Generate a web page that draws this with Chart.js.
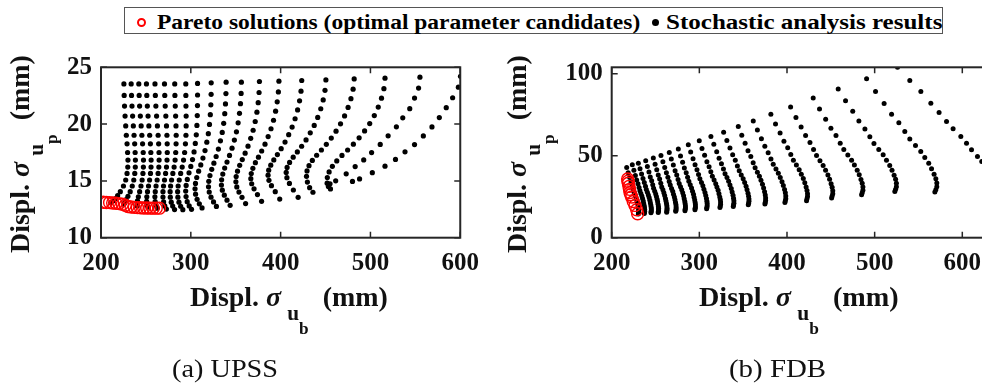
<!DOCTYPE html>
<html><head><meta charset="utf-8">
<script src="https://cdn.jsdelivr.net/npm/chart.js@4.4.0/dist/chart.umd.min.js"></script>
<style>
html,body{margin:0;padding:0;background:#fff;overflow:hidden;width:982px;height:387px;}
#wrap{position:relative;width:982px;height:387px;overflow:hidden;font-family:"Liberation Serif","Times New Roman",serif;color:#111;}
canvas{position:absolute;}
.t{position:absolute;white-space:nowrap;left:0;top:0;}
.b{font-weight:bold;}
.ttl{font-size:27.5px;line-height:27.5px;font-weight:bold;}
.g{font-style:italic;}
.s1{position:relative;top:14px;font-size:21px;line-height:0;margin-left:6px;}
.s2{position:relative;top:28px;font-size:17px;line-height:0;}
.bm{display:inline-block;width:0;height:0;}
.cap{font-size:26px;line-height:26px;}
.leg{font-size:21.6px;line-height:21.6px;font-weight:bold;color:#000;}
#lbox{position:absolute;left:124px;top:7px;width:819px;height:27px;border:1px solid #555;box-sizing:border-box;}
#mk1{position:absolute;left:136.5px;top:17.5px;width:9px;height:9px;border:2px solid #f00;border-radius:50%;box-sizing:border-box;}
#mk2{position:absolute;left:651.5px;top:18.5px;width:7px;height:7px;background:#000;border-radius:50%;}
</style></head>
<body>
<div id="wrap">
  <canvas id="cA" width="490" height="250" style="left:0px;top:40px"></canvas>
  <canvas id="cB" width="550" height="250" style="left:490px;top:40px"></canvas>
  <div id="lbox"></div><div id="mk1"></div><div id="mk2"></div>
  <div class="t leg" id="lg1">Pareto solutions (optimal parameter candidates)<span class="bm"></span></div>
  <div class="t leg" id="lg2">Stochastic analysis results<span class="bm"></span></div>
  <div class="t ttl" id="xtA">Displ. <span class="g">σ</span><span class="s1">u</span><span class="s2">b</span>&nbsp;&nbsp;(mm)<span class="bm"></span></div>
  <div class="t ttl" id="xtB">Displ. <span class="g">σ</span><span class="s1">u</span><span class="s2">b</span>&nbsp;&nbsp;(mm)<span class="bm"></span></div>
  <div class="t ttl" id="ytA">Displ. <span class="g">σ</span><span class="s1">u</span><span class="s2">p</span>&nbsp;&nbsp;(mm)<span class="bm"></span></div>
  <div class="t ttl" id="ytB">Displ. <span class="g">σ</span><span class="s1">u</span><span class="s2">p</span>&nbsp;&nbsp;(mm)<span class="bm"></span></div>
  <div class="t cap" id="capA">(a) UPSS<span class="bm"></span></div>
  <div class="t cap" id="capB">(b) FDB<span class="bm"></span></div>
</div>
<script>
// ---------- tick labels ----------
const upssTicksX = [200, 300, 400, 500, 600];
const upssTicksY = [10, 15, 20, 25];
const fdbTicksX = [200, 300, 400, 500, 600];
const fdbTicksY = [0, 50, 100];

// ---------- (a) UPSS : stochastic results, one array per parameter column ----------
const upssX = [
[225.5,225.8,226.2,226.8,227.5,228.2,229.0,229.6,230.0,229.8,229.0,227.5,225.0,221.5,218.5,216.0,213.5,211.0],
[233.6,234.0,234.5,235.2,236.0,236.8,237.5,238.0,238.3,238.2,237.6,236.5,234.8,232.5,230.0,228.0,226.5,225.5],
[242.1,242.5,243.0,243.8,244.7,245.5,246.3,247.0,247.3,247.2,246.7,245.8,244.5,243.0,241.6,240.6,240.2,240.3],
[250.6,251.0,251.6,252.4,253.3,254.2,255.0,255.5,255.8,255.7,255.1,254.1,252.9,251.8,251.0,250.8,251.2,252.2],
[260.1,260.5,261.1,261.9,262.8,263.6,264.2,264.6,264.7,264.4,263.6,262.5,261.3,260.4,260.0,260.3,261.2,262.6],
[270.7,271.0,271.5,272.2,272.9,273.4,273.7,273.8,273.5,272.9,271.9,270.7,269.6,269.0,269.0,269.7,271.0,272.8],
[282.1,282.3,282.7,283.1,283.5,283.7,283.6,283.2,282.5,281.4,280.0,278.6,277.5,277.0,277.2,278.2,279.8,281.9],
[294.4,294.5,294.6,294.8,294.8,294.6,294.0,293.1,291.9,290.4,288.7,287.1,285.9,285.3,285.6,286.8,288.7,291.1],
[307.5,307.5,307.4,307.2,306.8,306.1,305.0,303.6,301.9,300.0,298.0,296.1,294.8,294.3,294.7,296.0,298.2,300.8],
[322.7,322.6,322.3,321.7,320.8,319.5,317.8,315.8,313.5,311.1,308.7,306.6,305.2,304.7,305.3,307.0,309.5,312.5],
[339.3,339.1,338.6,337.8,336.6,335.0,333.0,330.7,328.2,325.7,323.3,321.3,320.0,319.7,320.5,322.5,325.3,328.5],
[356.3,356.0,355.3,354.2,352.7,350.8,348.5,345.9,343.1,340.3,337.7,335.6,334.3,334.1,335.1,337.3,340.3,343.8],
[376.4,376.0,375.0,373.6,371.7,369.4,366.7,363.7,360.5,357.3,354.4,352.0,350.5,350.2,351.2,353.6,357.0,361.0],
[398.1,397.5,396.2,394.4,392.1,389.3,386.1,382.6,378.9,375.3,371.9,369.1,367.3,366.8,367.8,370.4,374.2,378.8],
[423.5,422.7,421.1,418.9,416.1,412.8,409.0,404.9,400.6,396.4,392.4,389.0,386.7,386.0,387.0,389.8,394.0,399.0],
[450.4,449.4,447.4,444.7,441.3,437.4,433.0,428.3,423.4,418.6,414.0,410.0,407.2,406.2,407.0,409.8,414.2,419.5],
[481.9,480.7,478.3,475.1,471.2,466.7,461.7,456.4,450.9,445.4,440.1,435.3,431.6,429.4,428.8,429.8,432.3,436.0],
[516.2,515.0,512.3,508.7,504.3,499.2,493.5,487.4,481.0,474.6,468.3,462.5,457.6,454.0,452.0,451.8,453.2,455.5],
[555.1,553.6,549.1,543.8,536.0,528.9,519.7,510.9,501.3,492.5,483.0,473.0,461.3,455.0],
[600.3,597.9,591.5,584.4,576.7,568.5,558.9,549.1,538.5,527.9,516.2,502.1,487.9,480.0]
];
const upssY = [
[23.54,22.52,21.59,20.71,19.84,19.02,18.26,17.50,16.83,16.22,15.66,15.08,14.55,14.05,13.70,13.45,13.25,13.10],
[23.54,22.52,21.59,20.71,19.84,19.02,18.26,17.50,16.83,16.22,15.66,15.08,14.55,14.05,13.65,13.35,13.10,12.95],
[23.54,22.52,21.59,20.71,19.84,19.02,18.26,17.50,16.83,16.22,15.66,15.08,14.55,14.05,13.60,13.25,12.97,12.80],
[23.54,22.52,21.59,20.71,19.84,19.02,18.26,17.50,16.83,16.22,15.66,15.08,14.55,14.05,13.60,13.20,12.90,12.70],
[23.54,22.52,21.59,20.71,19.84,19.02,18.26,17.50,16.83,16.22,15.66,15.08,14.55,14.05,13.60,13.18,12.85,12.60],
[23.54,22.52,21.59,20.71,19.84,19.02,18.26,17.50,16.83,16.22,15.66,15.08,14.55,14.05,13.58,13.15,12.80,12.52],
[23.54,22.52,21.59,20.71,19.84,19.02,18.26,17.50,16.83,16.22,15.66,15.08,14.55,14.05,13.57,13.13,12.78,12.48],
[23.54,22.52,21.59,20.71,19.84,19.02,18.26,17.50,16.83,16.22,15.66,15.08,14.55,14.05,13.57,13.13,12.77,12.47],
[23.58,22.56,21.63,20.75,19.88,19.06,18.30,17.55,16.88,16.27,15.71,15.13,14.60,14.10,13.62,13.17,12.80,12.50],
[23.63,22.62,21.70,20.83,19.97,19.16,18.41,17.67,17.01,16.41,15.86,15.30,14.78,14.30,13.83,13.38,12.98,12.62],
[23.69,22.69,21.78,20.92,20.07,19.27,18.53,17.80,17.15,16.56,16.02,15.47,14.96,14.48,14.02,13.57,13.15,12.75],
[23.69,22.70,21.80,20.95,20.11,19.32,18.59,17.88,17.24,16.66,16.13,15.60,15.10,14.63,14.18,13.74,13.30,12.85],
[23.75,22.78,21.89,21.05,20.23,19.46,18.75,18.06,17.44,16.88,16.37,15.86,15.38,14.92,14.47,14.02,13.55,13.00],
[23.78,22.83,21.96,21.14,20.34,19.59,18.90,18.23,17.63,17.09,16.60,16.11,15.65,15.20,14.75,14.30,13.80,13.20],
[23.84,22.90,22.05,21.25,20.47,19.74,19.07,18.42,17.84,17.32,16.85,16.38,15.94,15.50,15.05,14.58,14.05,13.40],
[23.89,22.97,22.13,21.35,20.59,19.88,19.23,18.61,18.05,17.55,17.09,16.63,16.19,15.75,15.28,14.78,14.20,13.55],
[23.98,23.07,22.24,21.47,20.72,20.02,19.38,18.77,18.22,17.72,17.26,16.80,16.34,15.88,15.40,14.90,14.40,14.00],
[24.04,23.12,22.28,21.50,20.75,20.05,19.40,18.79,18.23,17.72,17.24,16.76,16.28,15.79,15.29,14.80,14.50,14.29],
[24.13,23.17,22.29,21.36,20.55,19.76,18.97,18.21,17.49,16.85,16.26,15.62,15.01,14.75],
[24.21,23.25,22.32,21.45,20.57,19.75,18.96,18.20,17.56,16.89,16.30,15.72,15.17,14.95]
];
const upssParetoX = [202.5,206.0,209.6,213.0,216.7,220.0,223.8,227.0,230.0,233.5,237.0,240.5,244.0,247.5,251.0,254.5,258.0,261.5,265.0];
const upssParetoY = [13.12,13.10,13.09,13.06,13.03,13.00,12.95,12.85,12.75,12.70,12.67,12.65,12.63,12.62,12.61,12.60,12.60,12.60,12.60];

// ---------- (b) FDB ----------
const fdbX = [
[217.1,218.8,220.5,222.0,223.4,224.6,225.5,226.7,227.7,228.5,229.2,229.8,230.3,230.6,230.8,230.8,230.6,230.4],
[223.5,225.3,227.0,228.5,230.0,231.2,232.2,233.3,234.4,235.2,236.0,236.5,237.1,237.4,237.6,237.6,237.4,237.2],
[230.4,232.3,234.1,235.7,237.2,238.5,239.5,240.7,241.8,242.7,243.5,244.1,244.6,245.0,245.2,245.2,245.0,244.8],
[238.8,240.7,242.5,244.0,245.6,246.8,247.8,249.1,250.2,251.0,251.8,252.4,252.9,253.3,253.5,253.5,253.3,253.1],
[247.5,249.5,251.4,253.1,254.7,256.0,257.1,258.4,259.5,260.4,261.3,261.9,262.5,262.9,263.1,263.1,262.9,262.7],
[256.2,258.4,260.5,262.4,264.1,265.6,266.8,268.3,269.6,270.5,271.5,272.2,272.8,273.3,273.5,273.5,273.3,273.0],
[265.7,268.0,270.3,272.3,274.2,275.7,277.0,278.5,279.9,281.0,282.0,282.7,283.4,283.8,284.1,284.1,283.8,283.6],
[276.0,278.5,280.9,282.9,285.0,286.6,288.0,289.6,291.1,292.2,293.3,294.0,294.7,295.2,295.5,295.5,295.2,295.0],
[287.4,290.1,292.8,295.1,297.3,299.1,300.6,302.4,304.0,305.2,306.4,307.3,308.1,308.6,308.9,308.9,308.6,308.3],
[299.9,303.0,306.0,308.6,311.1,313.1,314.8,316.8,318.7,320.0,321.4,322.4,323.3,323.9,324.2,324.2,323.9,323.5],
[313.2,316.5,319.8,322.5,325.2,327.5,329.3,331.5,333.4,334.9,336.4,337.4,338.4,339.0,339.4,339.4,339.0,338.7],
[327.7,331.4,334.9,338.0,341.0,343.4,345.5,347.8,350.0,351.7,353.3,354.4,355.5,356.2,356.6,356.6,356.2,355.8],
[344.4,348.4,352.2,355.5,358.7,361.4,363.6,366.2,368.5,370.3,372.0,373.3,374.4,375.2,375.6,375.6,375.2,374.8],
[361.5,366.2,370.8,374.7,378.5,381.7,384.3,387.4,390.1,392.3,394.3,395.8,397.2,398.1,398.6,398.6,398.1,397.6],
[381.6,386.9,392.1,396.5,400.8,404.3,407.3,410.7,413.9,416.3,418.6,420.3,421.8,422.8,423.4,423.4,422.8,422.3],
[404.1,410.2,416.1,421.2,426.2,430.3,433.7,437.6,441.2,444.0,446.7,448.6,450.3,451.5,452.2,452.2,451.5,450.9],
[429.9,437.1,444.1,450.1,455.9,460.7,464.8,469.4,473.7,476.9,480.1,482.4,484.4,485.8,486.6,486.6,485.8,485.1],
[458.4,466.8,475.0,482.0,488.9,494.5,499.2,504.7,509.7,513.5,517.2,519.8,522.2,523.9,524.8,524.8,523.9,523.0],
[490.8,501.0,510.8,519.3,527.6,534.4,540.1,546.6,552.6,557.2,561.7,564.9,567.8,569.8,570.9,570.9,569.8,568.7],
[526.1,540.1,552.7,564.1,573.5,582.0,589.5,598.3,604.8,610.5,617.3,622.2,627.0,631.0,634.0,636.0,637.0,636.0]
];
const fdbY = [
[42.9,39.7,36.7,34.0,31.8,29.6,27.7,26.1,24.6,23.1,21.7,20.3,18.9,17.8,16.7,15.7,15.0,14.4],
[44.5,41.1,38.0,35.2,33.0,30.7,28.7,27.0,25.4,23.9,22.4,20.9,19.5,18.3,17.2,16.2,15.4,14.8],
[45.5,42.1,38.9,36.1,33.7,31.4,29.4,27.7,26.1,24.5,22.9,21.4,20.0,18.8,17.6,16.6,15.8,15.2],
[47.0,43.4,40.1,37.1,34.7,32.3,30.2,28.4,26.7,25.1,23.5,21.9,20.4,19.1,17.9,16.9,16.1,15.4],
[48.6,44.9,41.4,38.3,35.8,33.2,31.0,29.2,27.4,25.7,24.0,22.4,20.8,19.5,18.2,17.2,16.3,15.6],
[50.2,46.4,42.8,39.6,36.9,34.3,32.1,30.1,28.3,26.5,24.8,23.1,21.5,20.1,18.8,17.7,16.8,16.1],
[52.0,48.0,44.3,40.9,38.2,35.5,33.1,31.1,29.2,27.4,25.6,23.8,22.1,20.7,19.3,18.2,17.3,16.5],
[54.1,49.9,46.0,42.6,39.7,36.9,34.4,32.3,30.4,28.4,26.5,24.7,23.0,21.5,20.1,18.8,17.9,17.1],
[56.7,52.3,48.2,44.5,41.5,38.5,36.0,33.7,31.7,29.6,27.6,25.7,23.9,22.3,20.8,19.5,18.5,17.7],
[59.1,54.5,50.3,46.4,43.3,40.2,37.5,35.2,33.0,30.9,28.9,26.9,24.9,23.3,21.8,20.4,19.4,18.5],
[61.8,57.0,52.5,48.5,45.2,41.9,39.1,36.7,34.4,32.2,30.0,27.9,25.9,24.1,22.5,21.1,20.0,19.1],
[64.4,59.4,54.7,50.6,47.2,43.8,40.8,38.3,36.0,33.7,31.4,29.2,27.1,25.3,23.6,22.2,21.0,20.1],
[67.9,62.5,57.6,53.1,49.5,45.8,42.7,40.0,37.5,35.0,32.6,30.3,28.0,26.1,24.3,22.7,21.5,20.5],
[71.3,65.7,60.4,55.8,51.9,48.1,44.8,42.0,39.3,36.7,34.2,31.8,29.4,27.4,25.5,23.8,22.6,21.5],
[75.4,69.4,63.9,58.9,54.9,50.8,47.3,44.3,41.5,38.8,36.1,33.5,30.9,28.8,26.8,25.1,23.7,22.6],
[79.7,73.4,67.6,62.4,58.1,53.8,50.2,47.0,44.1,41.2,38.3,35.6,33.0,30.8,28.6,26.8,25.4,24.2],
[85.2,78.5,72.3,66.8,62.3,57.7,53.8,50.5,47.3,44.3,41.2,38.4,35.5,33.2,30.9,29.0,27.4,26.2],
[90.7,83.6,77.1,71.2,66.4,61.6,57.5,53.9,50.6,47.3,44.1,41.1,38.1,35.6,33.2,31.1,29.5,28.2],
[97.0,89.2,81.9,75.4,70.1,64.8,60.2,56.3,52.6,49.0,45.5,42.1,38.8,36.0,33.4,31.1,29.3,27.9],
[104.1,95.9,89.2,82.1,76.4,70.9,66.5,61.8,57.7,53.7,49.6,46.5,43.5,40.5,38.0,36.0,34.0,32.5]
];
const fdbParetoX = [218.2,218.6,219.0,219.7,220.3,220.9,221.8,222.8,224.6,226.6,228.5,229.6];
const fdbParetoY = [35.8,34.5,33.2,31.3,29.5,27.6,26.2,24.8,22.1,19.7,17.1,14.6];

// ---------- helpers ----------
const FONT = '"Liberation Serif","Times New Roman",serif';
function toPoints(X, Y) {
  const p = [];
  X.forEach((col, i) => col.forEach((x, j) => p.push({x: x, y: Y[i][j]})));
  return p;
}
function zip(X, Y) { return X.map((x, i) => ({x: x, y: Y[i]})); }

const framePlugin = {
  id: 'frame',
  afterDatasetsDraw(chart) {
    const {ctx, chartArea: a, scales: {x, y}} = chart;
    ctx.save();
    ctx.strokeStyle = '#262626';
    ctx.lineWidth = 1.5;
    ctx.beginPath();
    x.ticks.forEach(t => {
      const p = x.getPixelForValue(t.value);
      ctx.moveTo(p, a.bottom); ctx.lineTo(p, a.bottom - 6);
      ctx.moveTo(p, a.top); ctx.lineTo(p, a.top + 6);
    });
    y.ticks.forEach(t => {
      const p = y.getPixelForValue(t.value);
      ctx.moveTo(a.left, p); ctx.lineTo(a.left + 6, p);
      ctx.moveTo(a.right, p); ctx.lineTo(a.right - 6, p);
    });
    ctx.stroke();
    ctx.lineWidth = 2;
    ctx.strokeRect(a.left, a.top, a.right - a.left, a.bottom - a.top);
    ctx.restore();
  }
};

function makeChart(id, black, pareto, xr, yr, xt, yt, pad, yW, xH, r) {
  const tickFont = {family: FONT, size: 25, weight: 'bold'};
  return new Chart(document.getElementById(id), {
    type: 'scatter',
    data: {datasets: [
      {data: pareto, pointRadius: 6, pointBorderWidth: 1.4, pointBorderColor: '#ff0000',
       pointBackgroundColor: 'rgba(255,255,255,0)', order: 0},
      {data: black, pointRadius: r, pointBorderWidth: 0, pointBorderColor: '#000',
       pointBackgroundColor: '#000', order: 1}
    ]},
    options: {
      responsive: false, animation: false, devicePixelRatio: 1, events: [],
      layout: {padding: pad, autoPadding: false},
      plugins: {legend: {display: false}, tooltip: {enabled: false}},
      scales: {
        x: {type: 'linear', min: xr[0], max: xr[1],
            afterBuildTicks: s => { s.ticks = xt.map(v => ({value: v})); },
            afterFit: s => { s.height = xH; },
            grid: {display: false, drawTicks: false}, border: {display: false},
            ticks: {padding: 11, color: '#111', font: tickFont, maxRotation: 0, autoSkip: false}},
        y: {type: 'linear', min: yr[0], max: yr[1],
            afterBuildTicks: s => { s.ticks = yt.map(v => ({value: v})); },
            afterFit: s => { s.width = yW; },
            grid: {display: false, drawTicks: false}, border: {display: false},
            ticks: {padding: 9, color: '#111', font: tickFont, autoSkip: false}}
      }
    },
    plugins: [framePlugin]
  });
}

makeChart('cA', toPoints(upssX, upssY), zip(upssParetoX, upssParetoY),
  [200, 600], [10, 25], upssTicksX, upssTicksY,
  {left: 0, top: 27.3, right: 12.3, bottom: 0}, 101, 52.3, 2.6);
makeChart('cB', toPoints(fdbX, fdbY), zip(fdbParetoX, fdbParetoY),
  [200, 630], [0, 104], fdbTicksX, fdbTicksY,
  {left: 0, top: 27.3, right: 51.4, bottom: 0}, 121.7, 52.3, 2.5);

// ---------- HTML text placement (start x, baseline y, width, rotated) ----------
function place(id, x, base, w, rot) {
  const el = document.getElementById(id);
  const bm = el.querySelector('.bm');
  const b = bm.offsetTop;
  const ow = el.offsetWidth;
  const s = w / ow;
  el.style.left = x + 'px';
  el.style.top = (base - b) + 'px';
  el.style.transformOrigin = '0px ' + b + 'px';
  el.style.transform = (rot ? 'rotate(-90deg) ' : '') + 'scaleX(' + s + ')';
}
place('lg1', 157, 29.3, 483, false);
place('lg2', 666, 29.3, 276, false);
place('xtA', 190, 306, 198, false);
place('xtB', 699.3, 306, 200, false);
place('ytA', 29, 253, 198, true);
place('ytB', 526, 253, 198, true);
place('capA', 171.7, 377, 106.6, false);
place('capB', 729.3, 377, 96.7, false);
</script>
</body></html>
